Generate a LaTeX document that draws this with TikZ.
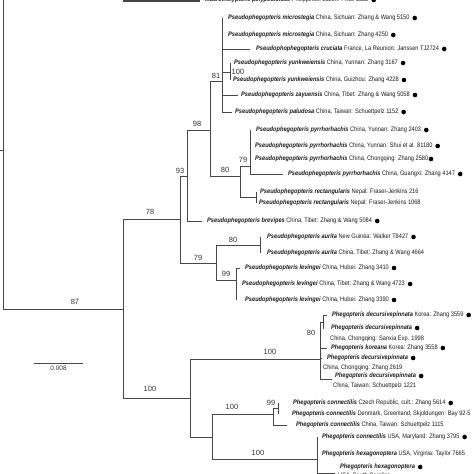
\documentclass[tikz,border=0pt]{standalone}
\usepackage{fontspec}
\setmainfont{Liberation Sans}
\newfontfamily\leaffont[FakeStretch=0.87]{Liberation Sans}
\newcommand{\taxon}[1]{\textbf{\textit{#1}}}
\begin{document}
\begin{tikzpicture}[
    x=1pt, y=-1pt,
    branch/.style={draw=black!72, line width=0.8pt},
    outbar/.style={draw=black!72, line width=4.5pt},
    leaf/.style={anchor=west, inner sep=0pt, font=\fontsize{6.5}{7}\leaffont, text=black!90},
    support/.style={inner sep=0pt, font=\fontsize{7.5}{8}\selectfont, text=black!80},
    dot/.style={fill=black}
]
\useasboundingbox (0,0) rectangle (474,474);
\clip (0,0) rectangle (474,474);

% Internal nodes
\coordinate (rtop) at (3,-12);
\coordinate (root) at (3,150);
\coordinate (rstub) at (-3,150);
\coordinate (outg) at (123,0);
\coordinate (n87) at (123,309);
\coordinate (n78) at (180,219);
\coordinate (n93) at (187,176);
\coordinate (n98) at (210,130);
\coordinate (n81) at (222,81);
\coordinate (nyun) at (230,72);
\coordinate (n80) at (240,176);
\coordinate (npyr) at (250,166);
\coordinate (nrect) at (256,197);
\coordinate (n79) at (216,263);
\coordinate (naur) at (260,245);
\coordinate (nlev) at (236,280);
\coordinate (n100) at (190,398);
\coordinate (ndec) at (320,359);
\coordinate (n80b) at (323,322);
\coordinate (nch) at (212,437);
\coordinate (ncon) at (273,414);
\coordinate (n99) at (278,408);
\coordinate (nhex) at (317,459);
\coordinate (nhexlow) at (317,480);

% Outgroup
\node[leaf] (mac) at (205,0) {\taxon{Macrothelypteris polypodioides} Philippines, Luzon: Price 1332};

% Pseudophegopteris
\node[leaf] (mic1) at (228,18) {\taxon{Pseudophegopteris microstegia} China, Sichuan: Zhang \& Wang 5150};
\node[leaf] (mic2) at (228,35) {\taxon{Pseudophegopteris microstegia} China, Sichuan: Zhang 4250};
\node[leaf] (cru) at (256,49) {\taxon{Pseudophophegopteris cruciata} France, La Reunion: Janssen TJ2724};
\node[leaf] (yun1) at (234,63) {\taxon{Pseudophegopteris yunkweiensis} China, Yunnan: Zhang 3167};
\node[leaf] (yun2) at (233,80) {\taxon{Pseudophegopteris yunkweiensis} China, Guizhou: Zhang 4228};
\node[leaf] (zay) at (241,95) {\taxon{Pseudophegopteris zayuensis} China, Tibet: Zhang \& Wang 5058};
\node[leaf] (pal) at (235,112) {\taxon{Pseudophegopteris paludosa} China, Taiwan: Schuettpelz 1152};
\node[leaf] (pyr1) at (256,130) {\taxon{Pseudophegopteris pyrrhorhachis} China, Yunnan: Zhang 2403};
\node[leaf] (pyr2) at (255,146) {\taxon{Pseudophegopteris pyrrhorhachis} China, Yunnan: Shui et al. 81180};
\node[leaf] (pyr3) at (255,159) {\taxon{Pseudophegopteris pyrrhorhachis} China, Chongqing: Zhang 2580};
\node[leaf] (pyr4) at (288,174) {\taxon{Pseudophegopteris pyrrhorhachis} China, Guangxi: Zhang 4147};
\node[leaf] (rect1) at (260,192) {\taxon{Pseudophegopteris rectangularis} Nepal: Fraser-Jenkins 216};
\node[leaf] (rect2) at (259,203) {\taxon{Pseudophegopteris rectangularis} Nepal: Fraser-Jenkins 1068};
\node[leaf] (brev) at (207,221) {\taxon{Pseudophegopteris brevipes} China, Tibet: Zhang \& Wang 5084};
\node[leaf] (aur1) at (267,237) {\taxon{Pseudophegopteris aurita} New Guinea: Walker T8427};
\node[leaf] (aur2) at (267,253) {\taxon{Pseudophegopteris aurita} China, Tibet: Zhang \& Wang 4664};
\node[leaf] (lev1) at (245,268) {\taxon{Pseudophegopteris levingei} China, Hubei: Zhang 3410};
\node[leaf] (lev2) at (242,284) {\taxon{Pseudophegopteris levingei} China, Tibet: Zhang \& Wang 4723};
\node[leaf] (lev3) at (245,300) {\taxon{Pseudophegopteris levingei} China, Hubei: Zhang 3390};

% Phegopteris
\node[leaf] (decA) at (332,315) {\taxon{Phegopteris decursivepinnata} Korea: Zhang 3559};
\node[leaf] (decB) at (331,328) {\taxon{Phegopteris decursivepinnata}};
\node[leaf] (decBloc) at (330,339) {China, Chongqing: Sanxia Exp. 1998};
\node[leaf] (kor) at (331,348) {\taxon{Phegopteris koreana} Korea: Zhang 3558};
\node[leaf] (decC) at (327,358) {\taxon{Phegopteris decursivepinnata}};
\node[leaf] (decCloc) at (323,368) {China, Chongqing: Zhang 2619};
\node[leaf] (decD) at (335,376) {\taxon{Phegopteris decursivepinnata}};
\node[leaf] (decDloc) at (333,386) {China, Taiwan: Schuettpelz 1221};
\node[leaf] (conCZ) at (293,403) {\taxon{Phegopteris connectilis} Czech Republic, cult.: Zhang 5614};
\node[leaf] (conDK) at (292,414) {\taxon{Phegopteris connectilis} Denmark, Greenland, Skjoldungen: Bay 92-5};
\node[leaf] (conTW) at (296,425) {\taxon{Phegopteris connectilis} China, Taiwan: Schuettpelz 1115};
\node[leaf] (conUS) at (322,437) {\taxon{Phegopteris connectilis} USA, Maryland: Zhang 3795};
\node[leaf] (hexVA) at (322,454) {\taxon{Phegopteris hexagonoptera} USA, Virginia: Taylor 7665};
\node[leaf] (hexSC) at (340,467) {\taxon{Phegopteris hexagonoptera}};
\node[leaf] (hexSCloc) at (338,476) {USA, South Carolina};

% Branches
\draw[branch] (root) -- (rtop);
\draw[branch] (root) -- (rstub);
\draw[outbar] (outg) -- ([xshift=-5pt]mac.west);
\draw[branch] (root) |- (n87);
\draw[branch] (n87) |- (n78);
\draw[branch] (n87) |- (n100);
\draw[branch] (n78) |- (n93);
\draw[branch] (n78) |- (n79);
\draw[branch] (n93) |- (n98);
\draw[branch] (n93) |- ([xshift=-5pt]brev.west);
\draw[branch] (n98) |- (n81);
\draw[branch] (n98) |- (n80);
\draw[branch] (n81) |- ([xshift=-5pt]mic1.west);
\draw[branch] (n81) |- ([xshift=-5pt]mic2.west);
\draw[branch] (n81) |- ([xshift=-6pt]cru.west);
\draw[branch] (n81) |- (nyun);
\draw[branch] (n81) |- ([xshift=-3pt]zay.west);
\draw[branch] (n81) |- ([xshift=-3pt]pal.west);
\draw[branch] (nyun) |- ([xshift=-4pt]yun1.west);
\draw[branch] (nyun) |- ([xshift=-3pt]yun2.west);
\draw[branch] (n80) |- (npyr);
\draw[branch] (n80) |- (nrect);
\draw[branch] (npyr) |- ([xshift=-5pt]pyr1.west);
\draw[branch] (npyr) |- ([xshift=-5pt]pyr2.west);
\draw[branch] (npyr) |- ([xshift=-5pt]pyr3.west);
\draw[branch] (npyr) |- ([xshift=-5pt]pyr4.west);
\draw[branch] (nrect) |- ([xshift=-3pt]rect1.west);
\draw[branch] (nrect) |- ([xshift=-3pt]rect2.west);
\draw[branch] (n79) |- (naur);
\draw[branch] (n79) |- (nlev);
\draw[branch] (naur) |- ([xshift=-7pt]aur1.west);
\draw[branch] (naur) |- ([xshift=-7pt]aur2.west);
\draw[branch] (nlev) |- ([xshift=-5pt]lev1.west);
\draw[branch] (nlev) |- ([xshift=-6pt]lev2.west);
\draw[branch] (nlev) |- ([xshift=-9pt]lev3.west);
\draw[branch] (n100) |- (ndec);
\draw[branch] (n100) |- (nch);
\draw[branch] (ndec) |- (n80b);
\draw[branch] (ndec) |- ([xshift=-4pt]kor.west);
\draw[branch] (ndec) |- ([xshift=-5pt]decC.west);
\draw[branch] (ndec) |- ([xshift=-3pt,yshift=-3pt]decD.west);
\draw[branch] (n80b) |- ([xshift=-5pt]decA.west);
\draw[branch] (n80b) |- ([xshift=-7pt]decB.west);
\draw[branch] (nch) |- (ncon);
\draw[branch] (nch) |- (nhex);
\draw[branch] (ncon) |- (n99);
\draw[branch] (ncon) |- ([xshift=-9pt]conTW.west);
\draw[branch] (n99) |- ([xshift=-15pt]conCZ.west);
\draw[branch] (n99) |- ([xshift=-14pt]conDK.west);
\draw[branch] (nhex) |- ([xshift=-5pt]conUS.west);
\draw[branch] (nhex) |- ([xshift=-5pt]hexVA.west);
\draw[branch] (nhex) |- ([xshift=-5pt,yshift=-6pt]hexSC.west);
\draw[branch] (nhex) -- (nhexlow);

% Dots
\foreach \t in {mac, mic1, mic2, cru, yun1, yun2, zay, pal, pyr1, pyr2, pyr4, brev, aur1,
    lev1, lev2, lev3, decA, decB, kor, decC, decD, conCZ, conUS, hexSC}
    \fill[dot] ([xshift=5pt]\t.east) circle (2.3pt);
\fill[dot] ([xshift=2.5pt]pyr3.east) circle (2.3pt);

% Support values
\node[support] (s87) at (75,302) {87};
\node[support] (s78) at (150,212) {78};
\node[support] (s93) at (180,171) {93};
\node[support] (s98) at (197,124) {98};
\node[support] (s81) at (216,76) {81};
\node[support] (s100y) at (238,72) {100};
\node[support] (s80p) at (225,170) {80};
\node[support] (s79p) at (243,160) {79};
\node[support] (s79) at (198,258) {79};
\node[support] (s80a) at (233,240) {80};
\node[support] (s99l) at (226,274) {99};
\node[support] (s100) at (150,389) {100};
\node[support] (s100d) at (270,352) {100};
\node[support] (s80d) at (311,333) {80};
\node[support] (s99c) at (271,403) {99};
\node[support] (s100c) at (232,407) {100};
\node[support] (s100h) at (258,453) {100};

% Scale bar
\coordinate (sbL) at (34,363);
\coordinate (sbR) at (83,363);
\draw[branch] (sbL) -- node[below=3pt, inner sep=0pt, font=\fontsize{6.5}{7}\selectfont, text=black!80] (sblab) {0.008} (sbR);

\end{tikzpicture}
\end{document}
